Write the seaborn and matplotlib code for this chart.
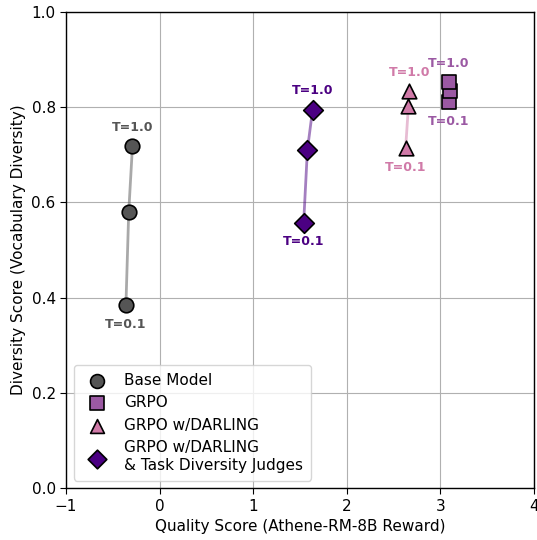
import pandas as pd
import numpy as np
import matplotlib
matplotlib.use("Agg")
import matplotlib.pyplot as plt
import seaborn as sns

# Data (T=0.1, T=0.5, T=1.0)
models = ["Base Model", "GRPO", "GRPO w/DARLING", "GRPO w/DARLING\n& Task Diversity Judges"]
temps = ["T=0.1", "T=0.5", "T=1.0"]
base_quality = [-0.36, -0.33, -0.29]
base_diversity = [0.384, 0.580, 0.718]
grpo_quality = [3.09, 3.10, 3.09]
grpo_diversity = [0.810, 0.834, 0.852]
darling_quality = [2.63, 2.66, 2.67]
darling_diversity = [0.714, 0.802, 0.833]
judges_quality = [1.54, 1.58, 1.635]
judges_diversity = [0.557, 0.710, 0.794]

colors = ["#555555", "#9B59A3", "#D07AA8", "#4B0082"]
markers = ["o", "s", "^", "D"]

frames = []
for name, q, d in [(models[0], base_quality, base_diversity),
                   (models[1], grpo_quality, grpo_diversity),
                   (models[2], darling_quality, darling_diversity),
                   (models[3], judges_quality, judges_diversity)]:
    frames.append(pd.DataFrame({"model": name, "temp": temps, "quality": q, "diversity": d}))
df = pd.concat(frames, ignore_index=True)

sns.set_style("ticks")
plt.rcParams.update({"text.color": "black", "axes.labelcolor": "black",
                     "xtick.color": "black", "ytick.color": "black"})
fig, ax = plt.subplots(figsize=(5.37, 5.4), dpi=100)
fig.subplots_adjust(left=0.123, right=0.994, top=0.978, bottom=0.096)
ax.grid(True, color="#b0b0b0", linewidth=0.8, zorder=0)
ax.set_axisbelow(True)

for i, name in enumerate(models):
    sub = df[df["model"] == name]
    sns.lineplot(data=sub, x="quality", y="diversity", color=colors[i], alpha=0.5,
                 linewidth=2, sort=False, ax=ax, zorder=2)
    sns.scatterplot(data=sub, x="quality", y="diversity", color=colors[i], marker=markers[i],
                    s=110 if markers[i] != "D" else 100, edgecolor="black", linewidth=1.2,
                    label=name, ax=ax, zorder=3)
    lo = sub.iloc[0]
    hi = sub.iloc[-1]
    ax.annotate("T=1.0", (hi["quality"], hi["diversity"]), xytext=(0, 9),
                textcoords="offset points", ha="center", va="bottom",
                fontsize=9, fontweight="bold", color=colors[i])
    ax.annotate("T=0.1", (lo["quality"], lo["diversity"]), xytext=(0, -9),
                textcoords="offset points", ha="center", va="top",
                fontsize=9, fontweight="bold", color=colors[i])

ax.set_xlim(-1, 4)
ax.set_ylim(0, 1.0)
ax.set_xticks([-1, 0, 1, 2, 3, 4])
ax.set_yticks([0.0, 0.2, 0.4, 0.6, 0.8, 1.0])
ax.tick_params(labelsize=11, direction="out", length=4, color="black", labelcolor="black")
for s in ax.spines.values():
    s.set_color("black")
    s.set_linewidth(1.0)
ax.set_xlabel("Quality Score (Athene-RM-8B Reward)", fontsize=11, color="black")
ax.set_ylabel("Diversity Score (Vocabulary Diversity)", fontsize=11, color="black")
ax.legend(loc="lower left", fontsize=11, frameon=True, handletextpad=0.8,
          borderpad=0.5, labelspacing=0.5, markerscale=0.95)

fig.savefig("out.png", dpi=100)
